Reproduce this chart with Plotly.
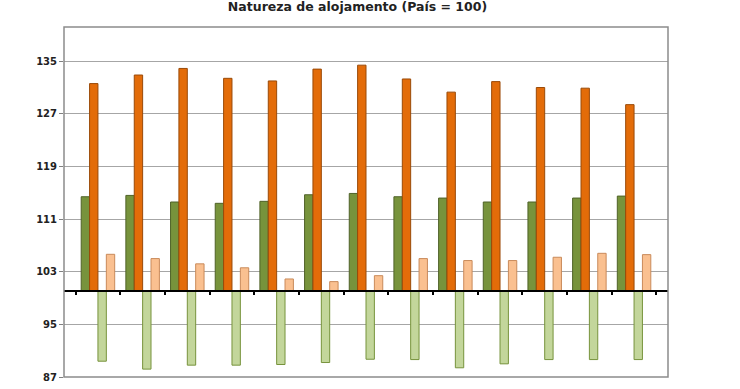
import plotly.graph_objects as go

months = ["Jan-12", "Fev-12", "Mar-12", "Abr-12", "Mai-12", "Jun-12", "Jul-12",
          "Ago-12", "Set-12", "Out-12", "Nov-12", "Dez-12", "Jan-13"]
base = 100
serie_a = [114.4, 114.6, 113.6, 113.4, 113.7, 114.7, 114.9, 114.4, 114.2, 113.6, 113.6, 114.2, 114.5]
serie_b = [131.6, 132.9, 133.9, 132.4, 132.0, 133.8, 134.4, 132.3, 130.3, 131.9, 131.0, 130.9, 128.4]
serie_c = [89.4, 88.2, 88.8, 88.8, 88.9, 89.2, 89.7, 89.65, 88.4, 89.0, 89.65, 89.65, 89.65]
serie_d = [105.65, 105.0, 104.2, 103.6, 101.9, 101.5, 102.4, 105.0, 104.7, 104.7, 105.2, 105.8, 105.6]
y_ticks = [87, 95, 103, 111, 119, 127, 135]

series = [
    ("Série A", serie_a, "#77933C", "#4F6228"),
    ("Série B", serie_b, "#E36C09", "#9A4A08"),
    ("Série C", serie_c, "#C3D69B", "#77933C"),
    ("Série D", serie_d, "#FAC090", "#C98A5A"),
]

fig = go.Figure()
for name, vals, col, edge in series:
    fig.add_trace(go.Bar(
        x=months, y=[v - base for v in vals], base=base, name=name,
        marker=dict(color=col, line=dict(color=edge, width=1)),
        xaxis="x", yaxis="y",
    ))

# dummy trace for the axis line at 100
fig.add_trace(go.Scatter(x=months, y=[base] * len(months), mode="markers",
                         marker=dict(opacity=0), xaxis="x2", yaxis="y",
                         showlegend=False, hoverinfo="skip"))

ymin, ymax = 87, 140.2
font = dict(family="DejaVu Sans", size=10, color="#222222")

fig.update_layout(
    width=740, height=389,
    margin=dict(l=64, r=72, t=27, b=12, autoexpand=False),
    paper_bgcolor="white", plot_bgcolor="white",
    barmode="group", bargap=0.25, bargroupgap=0,
    showlegend=False,
    title=dict(text="<b>Natureza de alojamento (País = 100)</b>",
               x=357.5 / 740, xanchor="center", y=1 - 7 / 389, yanchor="middle",
               font=dict(family="DejaVu Sans", size=12.5, color="#222222")),
    font=font,
    xaxis=dict(showgrid=False, showline=False, ticks="outside", ticklen=8, tickcolor="rgba(0,0,0,0)",
               automargin=False,
               tickfont=dict(family="DejaVu Sans", size=10, color="#222222"),
               tickprefix="<b>", ticksuffix="</b>"),
    xaxis2=dict(overlaying="x", matches="x", anchor="free", position=(base - ymin) / (ymax - ymin),
                showline=True, linecolor="black", linewidth=2, ticks="outside", ticklen=3,
                tickcolor="black", tickwidth=2, tickson="boundaries", automargin=False,
                showticklabels=False, showgrid=False),
    yaxis=dict(range=[ymin, ymax], tickvals=y_ticks, ticktext=[f"<b>{t}</b>" for t in y_ticks],
               showgrid=True, gridcolor="#A6A6A6", gridwidth=1, zeroline=False, automargin=False,
               ticks="outside", ticklen=4, tickcolor="#808080", showline=False,
               tickfont=dict(family="DejaVu Sans", size=10, color="#222222")),
    shapes=[dict(type="rect", xref="paper", yref="paper", x0=0, x1=1, y0=0, y1=1,
                 line=dict(color="#8C8C8C", width=1.5), layer="above")],
)

fig.write_html("out.html", config={"displayModeBar": False},
               post_script="document.body.style.margin='0';document.body.style.padding='0';")
